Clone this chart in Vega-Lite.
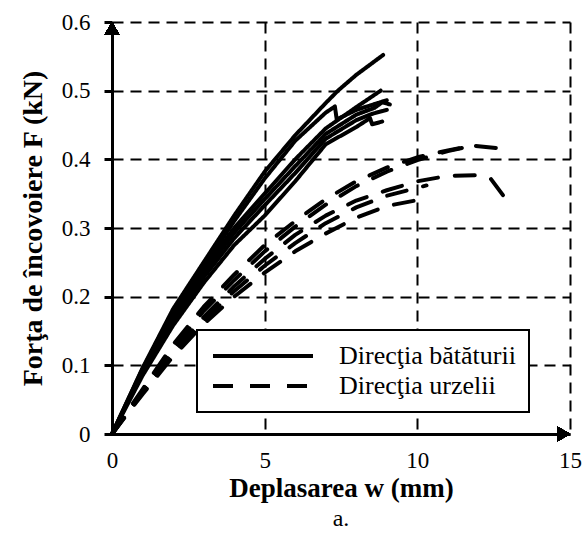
{
  "$schema": "https://vega.github.io/schema/vega-lite/v6.json",
  "width": 458,
  "height": 412,
  "autosize": {"type": "none"},
  "padding": {"left": 112, "top": 22, "right": 13, "bottom": 104},
  "background": "white",
  "config": {
    "font": "Liberation Serif",
    "view": {"stroke": null},
    "legend": {"strokeWidth": 2},
    "axis": {
      "domainColor": "black",
      "domainWidth": 3,
      "gridColor": "black",
      "gridDash": [11, 7],
      "gridWidth": 2,
      "gridOpacity": 1,
      "labelColor": "black",
      "labelFont": "Liberation Serif",
      "labelFontSize": 23,
      "labelFlush": false,
      "titleFont": "Liberation Serif",
      "titleColor": "black",
      "titleFontWeight": "bold",
      "tickColor": "black",
      "tickWidth": 3
    }
  },
  "title": {
    "text": "a.",
    "orient": "bottom",
    "anchor": "middle",
    "font": "Liberation Serif",
    "fontSize": 24,
    "fontWeight": "normal",
    "color": "black",
    "offset": 6
  },
  "data": {
    "values": [
      {"c": "S1", "d": "Direcţia bătăturii", "i": 0, "w": 0, "F": 0},
      {"c": "S1", "d": "Direcţia bătăturii", "i": 1, "w": 1, "F": 0.096},
      {"c": "S1", "d": "Direcţia bătăturii", "i": 2, "w": 2, "F": 0.182},
      {"c": "S1", "d": "Direcţia bătăturii", "i": 3, "w": 3, "F": 0.25},
      {"c": "S1", "d": "Direcţia bătăturii", "i": 4, "w": 4, "F": 0.318},
      {"c": "S1", "d": "Direcţia bătăturii", "i": 5, "w": 5, "F": 0.382},
      {"c": "S1", "d": "Direcţia bătăturii", "i": 6, "w": 6, "F": 0.435},
      {"c": "S1", "d": "Direcţia bătăturii", "i": 7, "w": 7, "F": 0.482},
      {"c": "S1", "d": "Direcţia bătăturii", "i": 8, "w": 7.4, "F": 0.5},
      {"c": "S1", "d": "Direcţia bătăturii", "i": 9, "w": 8, "F": 0.523},
      {"c": "S1", "d": "Direcţia bătăturii", "i": 10, "w": 8.88, "F": 0.552},

      {"c": "S2", "d": "Direcţia bătăturii", "i": 0, "w": 0, "F": 0},
      {"c": "S2", "d": "Direcţia bătăturii", "i": 1, "w": 1, "F": 0.095},
      {"c": "S2", "d": "Direcţia bătăturii", "i": 2, "w": 2, "F": 0.178},
      {"c": "S2", "d": "Direcţia bătăturii", "i": 3, "w": 3, "F": 0.244},
      {"c": "S2", "d": "Direcţia bătăturii", "i": 4, "w": 4, "F": 0.31},
      {"c": "S2", "d": "Direcţia bătăturii", "i": 5, "w": 5, "F": 0.372},
      {"c": "S2", "d": "Direcţia bătăturii", "i": 6, "w": 6, "F": 0.427},
      {"c": "S2", "d": "Direcţia bătăturii", "i": 7, "w": 7, "F": 0.468},
      {"c": "S2", "d": "Direcţia bătăturii", "i": 8, "w": 7.3, "F": 0.477},
      {"c": "S2", "d": "Direcţia bătăturii", "i": 9, "w": 7.36, "F": 0.458},
      {"c": "S2", "d": "Direcţia bătăturii", "i": 10, "w": 8, "F": 0.472},
      {"c": "S2", "d": "Direcţia bătăturii", "i": 11, "w": 8.5, "F": 0.479},
      {"c": "S2", "d": "Direcţia bătăturii", "i": 12, "w": 9.0, "F": 0.486},

      {"c": "S3", "d": "Direcţia bătăturii", "i": 0, "w": 0, "F": 0},
      {"c": "S3", "d": "Direcţia bătăturii", "i": 1, "w": 1, "F": 0.092},
      {"c": "S3", "d": "Direcţia bătăturii", "i": 2, "w": 2, "F": 0.172},
      {"c": "S3", "d": "Direcţia bătăturii", "i": 3, "w": 3, "F": 0.24},
      {"c": "S3", "d": "Direcţia bătăturii", "i": 4, "w": 4, "F": 0.3},
      {"c": "S3", "d": "Direcţia bătăturii", "i": 5, "w": 5, "F": 0.35},
      {"c": "S3", "d": "Direcţia bătăturii", "i": 6, "w": 6, "F": 0.4},
      {"c": "S3", "d": "Direcţia bătăturii", "i": 7, "w": 7, "F": 0.445},
      {"c": "S3", "d": "Direcţia bătăturii", "i": 8, "w": 8, "F": 0.476},
      {"c": "S3", "d": "Direcţia bătăturii", "i": 9, "w": 8.8, "F": 0.5},

      {"c": "S4", "d": "Direcţia bătăturii", "i": 0, "w": 0, "F": 0},
      {"c": "S4", "d": "Direcţia bătăturii", "i": 1, "w": 1, "F": 0.09},
      {"c": "S4", "d": "Direcţia bătăturii", "i": 2, "w": 2, "F": 0.168},
      {"c": "S4", "d": "Direcţia bătăturii", "i": 3, "w": 3, "F": 0.235},
      {"c": "S4", "d": "Direcţia bătăturii", "i": 4, "w": 4, "F": 0.293},
      {"c": "S4", "d": "Direcţia bătăturii", "i": 5, "w": 5, "F": 0.342},
      {"c": "S4", "d": "Direcţia bătăturii", "i": 6, "w": 6, "F": 0.39},
      {"c": "S4", "d": "Direcţia bătăturii", "i": 7, "w": 7, "F": 0.437},
      {"c": "S4", "d": "Direcţia bătăturii", "i": 8, "w": 8, "F": 0.465},
      {"c": "S4", "d": "Direcţia bătăturii", "i": 9, "w": 8.6, "F": 0.475},
      {"c": "S4", "d": "Direcţia bătăturii", "i": 10, "w": 8.85, "F": 0.483},
      {"c": "S4", "d": "Direcţia bătăturii", "i": 11, "w": 9.1, "F": 0.48},

      {"c": "S5", "d": "Direcţia bătăturii", "i": 0, "w": 0, "F": 0},
      {"c": "S5", "d": "Direcţia bătăturii", "i": 1, "w": 1, "F": 0.088},
      {"c": "S5", "d": "Direcţia bătăturii", "i": 2, "w": 2, "F": 0.163},
      {"c": "S5", "d": "Direcţia bătăturii", "i": 3, "w": 3, "F": 0.228},
      {"c": "S5", "d": "Direcţia bătăturii", "i": 4, "w": 4, "F": 0.285},
      {"c": "S5", "d": "Direcţia bătăturii", "i": 5, "w": 5, "F": 0.333},
      {"c": "S5", "d": "Direcţia bătăturii", "i": 6, "w": 6, "F": 0.38},
      {"c": "S5", "d": "Direcţia bătăturii", "i": 7, "w": 7, "F": 0.43},
      {"c": "S5", "d": "Direcţia bătăturii", "i": 8, "w": 8, "F": 0.457},
      {"c": "S5", "d": "Direcţia bătăturii", "i": 9, "w": 8.5, "F": 0.466},
      {"c": "S5", "d": "Direcţia bătăturii", "i": 10, "w": 9.0, "F": 0.472},

      {"c": "S6", "d": "Direcţia bătăturii", "i": 0, "w": 0, "F": 0},
      {"c": "S6", "d": "Direcţia bătăturii", "i": 1, "w": 1, "F": 0.085},
      {"c": "S6", "d": "Direcţia bătăturii", "i": 2, "w": 2, "F": 0.158},
      {"c": "S6", "d": "Direcţia bătăturii", "i": 3, "w": 3, "F": 0.22},
      {"c": "S6", "d": "Direcţia bătăturii", "i": 4, "w": 4, "F": 0.275},
      {"c": "S6", "d": "Direcţia bătăturii", "i": 5, "w": 5, "F": 0.318},
      {"c": "S6", "d": "Direcţia bătăturii", "i": 6, "w": 6, "F": 0.368},
      {"c": "S6", "d": "Direcţia bătăturii", "i": 7, "w": 7, "F": 0.422},
      {"c": "S6", "d": "Direcţia bătăturii", "i": 8, "w": 8, "F": 0.447},
      {"c": "S6", "d": "Direcţia bătăturii", "i": 9, "w": 8.45, "F": 0.46},
      {"c": "S6", "d": "Direcţia bătăturii", "i": 10, "w": 8.52, "F": 0.451},
      {"c": "S6", "d": "Direcţia bătăturii", "i": 11, "w": 8.85, "F": 0.455},

      {"c": "D1", "d": "Direcţia urzelii", "i": 0, "w": 0, "F": 0},
      {"c": "D1", "d": "Direcţia urzelii", "i": 1, "w": 1, "F": 0.065},
      {"c": "D1", "d": "Direcţia urzelii", "i": 2, "w": 2, "F": 0.13},
      {"c": "D1", "d": "Direcţia urzelii", "i": 3, "w": 3, "F": 0.185},
      {"c": "D1", "d": "Direcţia urzelii", "i": 4, "w": 4, "F": 0.232},
      {"c": "D1", "d": "Direcţia urzelii", "i": 5, "w": 5, "F": 0.275},
      {"c": "D1", "d": "Direcţia urzelii", "i": 6, "w": 6, "F": 0.31},
      {"c": "D1", "d": "Direcţia urzelii", "i": 7, "w": 7, "F": 0.342},
      {"c": "D1", "d": "Direcţia urzelii", "i": 8, "w": 8, "F": 0.368},
      {"c": "D1", "d": "Direcţia urzelii", "i": 9, "w": 9, "F": 0.388},
      {"c": "D1", "d": "Direcţia urzelii", "i": 10, "w": 10, "F": 0.403},
      {"c": "D1", "d": "Direcţia urzelii", "i": 11, "w": 11, "F": 0.413},
      {"c": "D1", "d": "Direcţia urzelii", "i": 12, "w": 11.8, "F": 0.42},
      {"c": "D1", "d": "Direcţia urzelii", "i": 13, "w": 12.7, "F": 0.416},

      {"c": "D2", "d": "Direcţia urzelii", "i": 0, "w": 0, "F": 0},
      {"c": "D2", "d": "Direcţia urzelii", "i": 1, "w": 1, "F": 0.063},
      {"c": "D2", "d": "Direcţia urzelii", "i": 2, "w": 2, "F": 0.124},
      {"c": "D2", "d": "Direcţia urzelii", "i": 3, "w": 3, "F": 0.179},
      {"c": "D2", "d": "Direcţia urzelii", "i": 4, "w": 4, "F": 0.224},
      {"c": "D2", "d": "Direcţia urzelii", "i": 5, "w": 5, "F": 0.266},
      {"c": "D2", "d": "Direcţia urzelii", "i": 6, "w": 6, "F": 0.302},
      {"c": "D2", "d": "Direcţia urzelii", "i": 7, "w": 7, "F": 0.334},
      {"c": "D2", "d": "Direcţia urzelii", "i": 8, "w": 8, "F": 0.361},
      {"c": "D2", "d": "Direcţia urzelii", "i": 9, "w": 9, "F": 0.382},
      {"c": "D2", "d": "Direcţia urzelii", "i": 10, "w": 10, "F": 0.399},
      {"c": "D2", "d": "Direcţia urzelii", "i": 11, "w": 11, "F": 0.412},
      {"c": "D2", "d": "Direcţia urzelii", "i": 12, "w": 11.8, "F": 0.42},

      {"c": "D3", "d": "Direcţia urzelii", "i": 0, "w": 0, "F": 0},
      {"c": "D3", "d": "Direcţia urzelii", "i": 1, "w": 1, "F": 0.061},
      {"c": "D3", "d": "Direcţia urzelii", "i": 2, "w": 2, "F": 0.12},
      {"c": "D3", "d": "Direcţia urzelii", "i": 3, "w": 3, "F": 0.17},
      {"c": "D3", "d": "Direcţia urzelii", "i": 4, "w": 4, "F": 0.215},
      {"c": "D3", "d": "Direcţia urzelii", "i": 5, "w": 5, "F": 0.255},
      {"c": "D3", "d": "Direcţia urzelii", "i": 6, "w": 6, "F": 0.29},
      {"c": "D3", "d": "Direcţia urzelii", "i": 7, "w": 7, "F": 0.318},
      {"c": "D3", "d": "Direcţia urzelii", "i": 8, "w": 8, "F": 0.34},
      {"c": "D3", "d": "Direcţia urzelii", "i": 9, "w": 9, "F": 0.355},
      {"c": "D3", "d": "Direcţia urzelii", "i": 10, "w": 10, "F": 0.368},
      {"c": "D3", "d": "Direcţia urzelii", "i": 11, "w": 11, "F": 0.376},
      {"c": "D3", "d": "Direcţia urzelii", "i": 12, "w": 12, "F": 0.377},
      {"c": "D3", "d": "Direcţia urzelii", "i": 13, "w": 12.4, "F": 0.372},
      {"c": "D3", "d": "Direcţia urzelii", "i": 14, "w": 12.9, "F": 0.342},

      {"c": "D4", "d": "Direcţia urzelii", "i": 0, "w": 0, "F": 0},
      {"c": "D4", "d": "Direcţia urzelii", "i": 1, "w": 1, "F": 0.06},
      {"c": "D4", "d": "Direcţia urzelii", "i": 2, "w": 2, "F": 0.117},
      {"c": "D4", "d": "Direcţia urzelii", "i": 3, "w": 3, "F": 0.165},
      {"c": "D4", "d": "Direcţia urzelii", "i": 4, "w": 4, "F": 0.208},
      {"c": "D4", "d": "Direcţia urzelii", "i": 5, "w": 5, "F": 0.245},
      {"c": "D4", "d": "Direcţia urzelii", "i": 6, "w": 6, "F": 0.278},
      {"c": "D4", "d": "Direcţia urzelii", "i": 7, "w": 7, "F": 0.307},
      {"c": "D4", "d": "Direcţia urzelii", "i": 8, "w": 8, "F": 0.33},
      {"c": "D4", "d": "Direcţia urzelii", "i": 9, "w": 9, "F": 0.347},
      {"c": "D4", "d": "Direcţia urzelii", "i": 10, "w": 10.3, "F": 0.362},

      {"c": "D5", "d": "Direcţia urzelii", "i": 0, "w": 0, "F": 0},
      {"c": "D5", "d": "Direcţia urzelii", "i": 1, "w": 1, "F": 0.058},
      {"c": "D5", "d": "Direcţia urzelii", "i": 2, "w": 2, "F": 0.113},
      {"c": "D5", "d": "Direcţia urzelii", "i": 3, "w": 3, "F": 0.16},
      {"c": "D5", "d": "Direcţia urzelii", "i": 4, "w": 4, "F": 0.2},
      {"c": "D5", "d": "Direcţia urzelii", "i": 5, "w": 5, "F": 0.235},
      {"c": "D5", "d": "Direcţia urzelii", "i": 6, "w": 6, "F": 0.266},
      {"c": "D5", "d": "Direcţia urzelii", "i": 7, "w": 7, "F": 0.292},
      {"c": "D5", "d": "Direcţia urzelii", "i": 8, "w": 8, "F": 0.315},
      {"c": "D5", "d": "Direcţia urzelii", "i": 9, "w": 9, "F": 0.332},
      {"c": "D5", "d": "Direcţia urzelii", "i": 10, "w": 10.4, "F": 0.344}
    ]
  },
  "layer": [
    {
      "mark": {"type": "line", "color": "black", "strokeWidth": 4, "strokeCap": "round", "strokeJoin": "round"},
      "encoding": {
        "x": {
          "field": "w",
          "type": "quantitative",
          "scale": {"domain": [0, 15], "nice": false, "zero": true},
          "axis": {
            "values": [0, 5, 10, 15],
            "grid": true,
            "ticks": false,
            "labelPadding": 15,
            "title": "Deplasarea w (mm)",
            "titleFontSize": 27,
            "titlePadding": 3
          }
        },
        "y": {
          "field": "F",
          "type": "quantitative",
          "scale": {"domain": [0, 0.6], "nice": false},
          "axis": {
            "values": [0, 0.1, 0.2, 0.3, 0.4, 0.5, 0.6],
            "grid": true,
            "ticks": true,
            "tickSize": 8,
            "labelPadding": 14,
            "labelExpr": "datum.value === 0 ? '0' : format(datum.value, '.1f')",
            "title": "Forţa de încovoiere  F (kN)",
            "titleFontSize": 28,
            "titlePadding": 14
          }
        },
        "detail": {"field": "c"},
        "order": {"field": "i", "type": "quantitative"},
        "strokeDash": {
          "field": "d",
          "type": "nominal",
          "scale": {"domain": ["Direcţia bătăturii", "Direcţia urzelii"], "range": [[1, 0], [20, 17]]},
          "legend": {
            "title": null,
            "orient": "none",
            "legendX": 85,
            "legendY": 308,
            "direction": "vertical",
            "strokeColor": "black",
            "fillColor": "white",
            "padding": 13,
            "symbolType": "M-5,0H5",
            "symbolSize": 400,
            "symbolOffset": 40,
            "symbolStrokeWidth": 4,
            "symbolStrokeColor": "black",
            "labelFont": "Liberation Serif",
            "labelFontSize": 26,
            "labelColor": "black",
            "labelOffset": 63,
            "labelLimit": 400,
            "rowPadding": 4
          }
        }
      }
    },
    {
      "mark": {"type": "point", "shape": "triangle-up", "filled": true, "color": "black", "size": 225, "opacity": 1},
      "encoding": {"x": {"datum": 0}, "y": {"datum": 0.5905}}
    },
    {
      "mark": {"type": "point", "shape": "triangle-right", "filled": true, "color": "black", "size": 225, "opacity": 1},
      "encoding": {"x": {"datum": 14.79}, "y": {"datum": 0}}
    }
  ]
}
